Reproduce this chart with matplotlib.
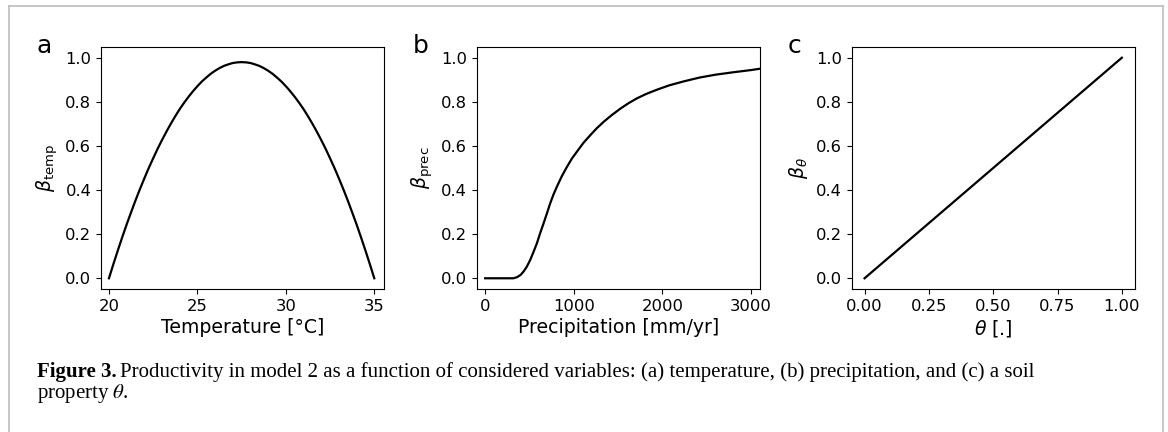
import numpy as np
import matplotlib
matplotlib.use("Agg")
import matplotlib.pyplot as plt
from matplotlib.lines import Line2D


# ============================================================
# Datos
# ============================================================

temp_c = [20.0, 20.25, 20.5, 20.75, 21.0, 21.25, 21.5, 21.75, 22.0, 22.25,
          22.5, 22.75, 23.0, 23.25, 23.5, 23.75, 24.0, 24.25, 24.5, 24.75,
          25.0, 25.25, 25.5, 25.75, 26.0, 26.25, 26.5, 26.75, 27.0, 27.25,
          27.5, 27.75, 28.0, 28.25, 28.5, 28.75, 29.0, 29.25, 29.5, 29.75,
          30.0, 30.25, 30.5, 30.75, 31.0, 31.25, 31.5, 31.75, 32.0, 32.25,
          32.5, 32.75, 33.0, 33.25, 33.5, 33.75, 34.0, 34.25, 34.5, 34.75,
          35.0]
beta_temp = [0.000, 0.064, 0.126, 0.186, 0.244, 0.299, 0.353, 0.404, 0.453,
             0.500, 0.544, 0.587, 0.627, 0.665, 0.701, 0.735, 0.767, 0.796,
             0.823, 0.848, 0.871, 0.892, 0.910, 0.927, 0.941, 0.953, 0.963,
             0.970, 0.976, 0.979, 0.980, 0.979, 0.976, 0.970, 0.963, 0.953,
             0.941, 0.927, 0.910, 0.892, 0.871, 0.848, 0.823, 0.796, 0.767,
             0.735, 0.701, 0.665, 0.627, 0.587, 0.544, 0.500, 0.453, 0.404,
             0.353, 0.299, 0.244, 0.186, 0.126, 0.064, 0.000]

prec_mm = [0, 100, 200, 300, 320, 360, 400, 433, 470, 509, 545, 585, 620,
           660, 700, 735, 770, 810, 865, 925, 980, 1040, 1110, 1190, 1260,
           1340, 1430, 1530, 1620, 1715, 1820, 1940, 2080, 2245, 2420,
           2600, 2800, 3000, 3100]
beta_prec = [0.0, 0.0, 0.0, 0.0, 0.0, 0.005, 0.015, 0.030, 0.052, 0.083,
             0.118, 0.159, 0.203, 0.249, 0.297, 0.340, 0.378, 0.415, 0.462,
             0.506, 0.543, 0.576, 0.614, 0.650, 0.680, 0.710, 0.740, 0.770,
             0.794, 0.816, 0.836, 0.855, 0.875, 0.893, 0.910, 0.923, 0.934,
             0.944, 0.950]

theta = [0.0, 1.0]
beta_theta = [0.0, 1.0]

y_ticks = [0.0, 0.2, 0.4, 0.6, 0.8, 1.0]


# ============================================================
# Figura
# ============================================================

plt.rcParams["font.family"] = "DejaVu Sans"
plt.rcParams["xtick.labelsize"] = 11.8
plt.rcParams["ytick.labelsize"] = 11.8
plt.rcParams["axes.labelsize"] = 13.6

W, H = 1168, 432
fig = plt.figure(figsize=(W / 100, H / 100), dpi=100)

ax_w = 283 / W
ax_h = 242.6 / H
ax_b = (H - 289.3) / H
lefts = [101 / W, 476.7 / W, 851.7 / W]

panels = [
    (temp_c, beta_temp, "Temperature [°C]", r"$\beta_\mathrm{temp}$", "a"),
    (prec_mm, beta_prec, "Precipitation [mm/yr]", r"$\beta_\mathrm{prec}$", "b"),
    (theta, beta_theta, r"$\theta$ [.]", r"$\beta_\theta$", "c"),
]

axes = []
for left, (x, y, xlabel, ylabel, tag) in zip(lefts, panels):
    ax = fig.add_axes([left, ax_b, ax_w, ax_h])
    ax.plot(x, y, color="black", linewidth=1.6)
    ax.set_xlabel(xlabel, labelpad=3)
    ax.set_ylabel(ylabel)
    ax.set_yticks(y_ticks)
    ax.set_ylim(-0.05, 1.05)
    fig.text(left - 64 / W, (H - 53) / H, tag, fontsize=18,
             ha="left", va="baseline")
    axes.append(ax)

axes[0].set_xticks([20, 25, 30, 35])
axes[0].set_xlim(19.55, 35.55)
axes[1].set_xticks([0, 1000, 2000, 3000])
axes[1].set_xlim(-95, 3100)
axes[2].set_xticks([0.0, 0.25, 0.5, 0.75, 1.0])
axes[2].set_xticklabels(["0.00", "0.25", "0.50", "0.75", "1.00"])
axes[2].set_xlim(-0.05, 1.05)

# Marco gris de la página
frame_color = "#b8b8b8"
for xs, ys in [([9, 9], [0, H - 6]), ([9, 1163], [H - 6, H - 6]),
               ([1163, 1163], [0, H - 6])]:
    fig.add_artist(Line2D([v / W for v in xs], [v / H for v in ys],
                          color=frame_color, linewidth=1.1,
                          transform=fig.transFigure))

# Pie de figura
serif = "Liberation Serif"
cap_size = 15
x0 = 36.7 / W
y1 = (H - 377) / H
y2 = (H - 398) / H
t_bold = fig.text(x0, y1, "Figure 3.", family=serif, fontweight="bold",
                  fontsize=cap_size, ha="left", va="baseline")
renderer = fig.canvas.get_renderer()
bb = t_bold.get_window_extent(renderer=renderer)
fig.text(bb.x1 / W + 4 / W, y1,
         "Productivity in model 2 as a function of considered variables: "
         "(a) temperature, (b) precipitation, and (c) a soil",
         family=serif, fontsize=cap_size, ha="left", va="baseline")
fig.text(x0, y2, r"property $\theta$.", family=serif, fontsize=cap_size,
         math_fontfamily="stix", ha="left", va="baseline")

fig.savefig("out.png", dpi=100)
